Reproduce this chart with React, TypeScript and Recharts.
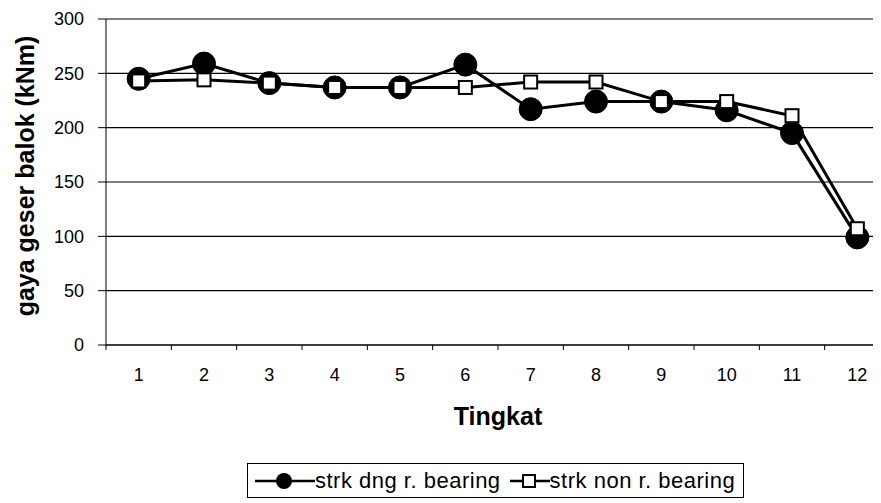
import { LineChart, Line, XAxis, YAxis, CartesianGrid } from 'recharts';

const tingkat = [1, 2, 3, 4, 5, 6, 7, 8, 9, 10, 11, 12];
const strkDng = [245, 259, 241, 237, 237, 258, 217, 224, 224, 216, 195, 99];
const strkNon = [243, 244, 241, 237, 237, 237, 242, 242, 224, 224, 211, 107];
const yTicks = [0, 50, 100, 150, 200, 250, 300];

const SERIES_DNG = 'strk dng r. bearing';
const SERIES_NON = 'strk non r. bearing';

const FONT = '"Liberation Sans", Arial, sans-serif';
const W = 900;
const H = 503;
const PLOT_LEFT = 106;
const PLOT_RIGHT = 10;
const HALF_BAND = (W - PLOT_LEFT - PLOT_RIGHT) / tingkat.length / 2;

const data = tingkat.map((t, i) => ({ tingkat: t, dng: strkDng[i], non: strkNon[i] }));

function XTick(props: any) {
  const { x, y, payload } = props;
  const last = payload.value === tingkat[tingkat.length - 1];
  return (
    <g>
      <line x1={x - HALF_BAND} x2={x - HALF_BAND} y1={y} y2={y + 5} stroke="#000" strokeWidth={1} />
      {last && <line x1={x + HALF_BAND} x2={x + HALF_BAND} y1={y} y2={y + 5} stroke="#000" strokeWidth={1} />}
      <text x={x} y={y + 36} textAnchor="middle" fontFamily={FONT} fontSize={18} fill="#000">
        {payload.value}
      </text>
    </g>
  );
}

function CircleDot(props: any) {
  const { cx, cy } = props;
  if (cx == null || cy == null) return null;
  return <circle cx={cx} cy={cy} r={11.5} fill="#000" stroke="#000" />;
}

function SquareDot(props: any) {
  const { cx, cy } = props;
  if (cx == null || cy == null) return null;
  return <rect x={cx - 6.5} y={cy - 6.5} width={13} height={13} fill="#fff" stroke="#000" strokeWidth={2} />;
}

export default function App() {
  return (
    <div style={{ position: 'relative', width: W, height: H, margin: '-8px 0 0 -8px', background: '#fff' }}>
      <LineChart width={W} height={H} data={data} margin={{ top: 19, right: PLOT_RIGHT, left: 0, bottom: 0 }}>
        <CartesianGrid vertical={false} stroke="#000" strokeWidth={1.2} />
        <XAxis
          dataKey="tingkat"
          type="number"
          domain={[0.5, 12.5]}
          ticks={tingkat}
          interval={0}
          height={158}
          tickSize={0}
          tickMargin={0}
          tickLine={false}
          axisLine={{ stroke: '#000' }}
          tick={<XTick />}
          label={{
            value: 'Tingkat',
            position: 'insideTop',
            offset: 62,
            style: { fontFamily: FONT, fontSize: 25, fontWeight: 'bold', fill: '#000' },
          }}
        />
        <YAxis
          domain={[0, 300]}
          ticks={yTicks}
          width={PLOT_LEFT}
          tickSize={8}
          tickMargin={14}
          axisLine={{ stroke: '#000' }}
          tickLine={{ stroke: '#000' }}
          tick={{ fontFamily: FONT, fontSize: 18, fill: '#000' }}
          label={{
            content: () => (
              <text
                x={25}
                y={176}
                transform="rotate(-90 25 176)"
                textAnchor="middle"
                dominantBaseline="central"
                fontFamily={FONT}
                fontSize={25}
                fontWeight="bold"
                fill="#000"
              >
                gaya geser balok (kNm)
              </text>
            ),
          }}
        />
        <Line
          dataKey="dng"
          name={SERIES_DNG}
          stroke="#000"
          strokeWidth={3}
          dot={<CircleDot />}
          isAnimationActive={false}
        />
        <Line
          dataKey="non"
          name={SERIES_NON}
          stroke="#000"
          strokeWidth={3}
          dot={<SquareDot />}
          isAnimationActive={false}
        />
      </LineChart>
      <div
        style={{
          position: 'absolute',
          left: 247,
          top: 463,
          width: 497,
          height: 35,
          boxSizing: 'border-box',
          border: '1px solid #000',
          background: '#fff',
          display: 'flex',
          alignItems: 'center',
          fontFamily: FONT,
          fontSize: 22,
          letterSpacing: 0.5,
          color: '#000',
          whiteSpace: 'nowrap',
        }}
      >
        <svg width={60} height={20} style={{ marginLeft: 7 }}>
          <line x1={0} x2={60} y1={10} y2={10} stroke="#000" strokeWidth={2.5} />
          <circle cx={29} cy={10} r={8} fill="#000" />
        </svg>
        <span>{SERIES_DNG}</span>
        <svg width={40} height={20} style={{ marginLeft: 9 }}>
          <line x1={0} x2={40} y1={10} y2={10} stroke="#000" strokeWidth={2.5} />
          <rect x={13} y={4} width={12} height={12} fill="#fff" stroke="#000" strokeWidth={2} />
        </svg>
        <span>{SERIES_NON}</span>
      </div>
    </div>
  );
}
